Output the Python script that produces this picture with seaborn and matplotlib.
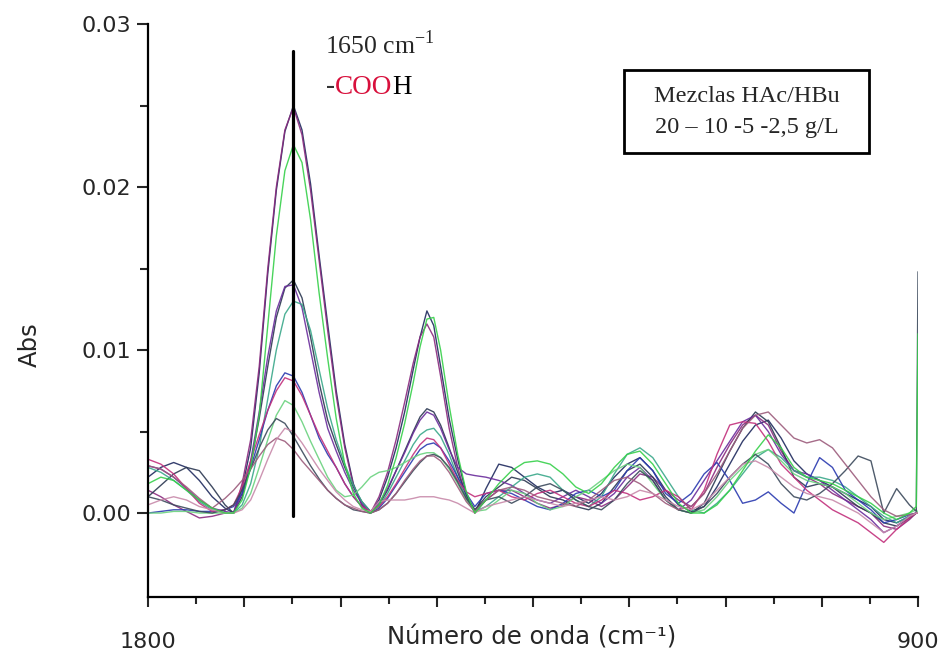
import numpy as np
import pandas as pd
import matplotlib
matplotlib.use("Agg")
import matplotlib.pyplot as plt
import seaborn as sns
from matplotlib.ticker import FixedLocator, FixedFormatter
from matplotlib.patches import Rectangle

# ---------------- data (absorbance in units of 1e-4) ----------------
wavenumber = [1800, 1785, 1770, 1755, 1740, 1725, 1710, 1700, 1690, 1680, 1670, 1660,
              1650, 1640, 1630, 1620, 1610, 1600, 1590, 1580, 1570, 1560, 1550, 1540,
              1530, 1520, 1510, 1500, 1490, 1482, 1474, 1466, 1458, 1448, 1438, 1428, 1418,
              1405, 1390, 1375, 1360, 1345, 1330, 1315, 1300, 1285, 1270, 1255, 1240,
              1225, 1210, 1195, 1180, 1165, 1150, 1135, 1120, 1105, 1090, 1075, 1060,
              1045, 1030, 1015, 1000, 985, 970, 955, 940, 925, 910, 902, 900]

s01 = [22, 28, 31, 28, 20, 10, 3, 0, 15, 40, 86, 147, 198, 234, 250, 235, 202, 158, 116, 75, 42, 18, 5, 0,
       8, 22, 40, 62, 88, 108, 124, 115, 90, 58, 33, 12, 0,
       15, 30, 28, 22, 16, 12, 14, 10, 6, 12, 22, 30, 34, 26, 14, 5, 1, 4, 16, 30,
       44, 54, 57, 46, 32, 24, 20, 16, 12, 8, 4, -4, -6, -2, 0, 0]
s02 = [14, 10, 5, 1, -3, -2, 0, 0, 18, 45, 90, 150, 200, 235, 249, 232, 198, 155, 112, 72, 40, 17, 5, 0,
       10, 25, 45, 68, 92, 108, 116, 108, 84, 52, 28, 10, 0,
       8, 14, 14, 10, 6, 3, 5, 10, 8, 4, 8, 16, 24, 22, 14, 8, 4, 12, 28, 42,
       54, 60, 54, 38, 26, 22, 18, 12, 8, 4, 0, -8, -10, -4, 0, 0]
s03 = [18, 22, 20, 14, 8, 3, 0, 0, 8, 28, 60, 115, 170, 210, 226, 215, 180, 135, 95, 58, 30, 12, 3, 0,
       5, 17, 34, 55, 80, 102, 119, 120, 100, 66, 36, 13, 0,
       8, 18, 26, 31, 32, 30, 24, 16, 12, 18, 28, 36, 38, 30, 18, 6, 0, 0, 5, 14,
       26, 38, 48, 40, 28, 22, 20, 18, 14, 10, 6, 0, -4, 0, 4, 110]
s04 = [10, 17, 24, 28, 26, 16, 5, 0, 10, 30, 58, 90, 120, 138, 143, 132, 108, 80, 57, 42, 28, 16, 7, 1,
       5, 14, 26, 38, 50, 59, 64, 62, 54, 40, 25, 11, 2,
       10, 16, 22, 20, 15, 10, 8, 4, 2, 6, 16, 26, 30, 22, 10, 2, 0, 6, 22, 38,
       52, 62, 56, 40, 22, 16, 18, 16, 10, 4, 0, -6, -8, -3, 0, 0]
s05 = [29, 27, 22, 15, 8, 3, 1, 0, 12, 32, 62, 96, 124, 139, 140, 126, 100, 74, 52, 38, 25, 14, 6, 1,
       6, 15, 26, 37, 49, 57, 62, 60, 52, 39, 28, 24, 23,
       22, 20, 17, 12, 8, 6, 10, 14, 10, 6, 12, 22, 28, 20, 8, 2, 8, 20, 32, 44,
       56, 60, 50, 36, 26, 24, 20, 14, 8, 2, -4, -12, -8, -2, 0, 0]
s06 = [28, 25, 20, 14, 7, 2, 0, 0, 5, 18, 40, 70, 100, 122, 130, 128, 112, 88, 64, 45, 30, 17, 7, 1,
       4, 12, 22, 32, 42, 48, 51, 52, 47, 36, 22, 9, 1,
       4, 10, 16, 22, 24, 22, 14, 8, 4, 10, 24, 36, 40, 34, 22, 10, 2, 0, 6, 14,
       24, 34, 39, 34, 26, 22, 22, 20, 16, 10, 4, -2, -6, -2, 0, 0]
s07 = [0, 1, 2, 2, 1, 1, 2, 4, 12, 28, 45, 63, 78, 86, 84, 74, 60, 46, 36, 28, 18, 10, 4, 0,
       3, 9, 17, 25, 33, 39, 42, 43, 40, 32, 22, 12, 4,
       12, 14, 12, 8, 4, 2, 6, 12, 14, 10, 14, 26, 34, 26, 12, 6, 12, 24, 31, 20,
       6, 8, 13, 6, 0, 18, 34, 28, 14, 8, 2, -6, -4, -1, 0, 0]
s08 = [33, 30, 24, 15, 6, 1, 2, 5, 16, 32, 48, 63, 75, 83, 81, 72, 60, 48, 38, 28, 18, 10, 4, 1,
       4, 10, 18, 27, 36, 42, 46, 45, 40, 30, 20, 13, 10,
       12, 14, 10, 8, 12, 14, 10, 6, 4, 8, 14, 12, 8, 10, 14, 10, 2, 14, 36, 54,
       56, 55, 44, 30, 22, 14, 8, 2, -2, -6, -12, -18, -10, -3, 0, 0]
s09 = [0, 0, 1, 1, 0, 0, 0, 0, 3, 12, 28, 45, 60, 69, 66, 56, 44, 33, 22, 14, 10, 11, 16, 22,
       25, 26, 28, 31, 34, 36, 37, 37, 34, 27, 18, 8, 1,
       2, 8, 14, 12, 6, 2, 4, 10, 14, 20, 26, 30, 28, 18, 8, 2, 0, 2, 10, 20,
       28, 36, 39, 32, 24, 20, 18, 16, 12, 6, 0, -4, -2, 0, 2, 0]
s10 = [10, 8, 5, 3, 1, 0, 2, 5, 14, 27, 40, 51, 58, 55, 47, 38, 29, 21, 14, 9, 5, 2, 1, 0,
       2, 6, 12, 19, 26, 31, 35, 36, 34, 28, 19, 9, 2,
       8, 10, 6, 10, 16, 18, 14, 8, 4, 2, 8, 18, 26, 20, 8, 2, 0, 4, 12, 22,
       30, 36, 30, 18, 10, 8, 12, 18, 26, 35, 32, 0, 15, 5, 1, 148]
s11 = [29, 27, 22, 16, 9, 3, 9, 14, 20, 27, 35, 42, 46, 44, 39, 32, 26, 20, 14, 9, 5, 3, 1, 0,
       2, 6, 12, 20, 27, 32, 35, 35, 32, 25, 16, 7, 1,
       8, 14, 16, 14, 10, 8, 6, 4, 8, 14, 20, 22, 18, 12, 6, 2, 4, 12, 24, 38,
       52, 60, 62, 54, 46, 43, 45, 40, 30, 20, 10, 2, -2, -1, 0, 0]
s12 = [5, 8, 10, 8, 4, 2, 0, 0, 2, 8, 20, 33, 45, 52, 50, 43, 35, 27, 20, 13, 8, 4, 2, 1,
       7, 8, 8, 8, 9, 10, 10, 10, 9, 8, 6, 3, 0,
       4, 6, 8, 10, 8, 6, 4, 6, 8, 10, 8, 10, 14, 12, 8, 4, 2, 6, 14, 22,
       30, 32, 28, 22, 16, 12, 10, 8, 4, 0, -6, -12, -8, -2, 0, 0]

# drawing order: the bright green series last so its end spike lies on top
series_names = ["M1", "M2", "M4", "M5", "M6", "M7", "M8", "M9", "M10", "M11", "M12", "M3"]
series_values = [s01, s02, s04, s05, s06, s07, s08, s09, s10, s11, s12, s03]
line_colors = ["#1f2a5e", "#8a2a7e", "#2c3852", "#6a2c9c", "#3aa88a",
               "#2a3ab0", "#c2307c", "#6ad27e", "#3c4a5c", "#9c5c7c", "#c88aaa", "#36d04a"]

y_ticks = [0.00, 0.01, 0.02, 0.03]
y_tick_labels = ["0.00", "0.01", "0.02", "0.03"]

rows = []
for name, vals in zip(series_names, series_values):
    for w, v in zip(wavenumber, vals):
        rows.append((name, w, v * 1e-4))
df = pd.DataFrame(rows, columns=["serie", "wn", "absorb"])

# ---------------- style ----------------
sns.set_style("ticks")
plt.rcParams['font.family'] = ['DejaVu Sans']
plt.rcParams['mathtext.fontset'] = 'custom'
plt.rcParams['mathtext.rm'] = 'Liberation Serif'

W, H = 947, 656
fig = plt.figure(figsize=(W / 100, H / 100), dpi=100)
ax = fig.add_axes([148 / W, 1 - 597 / H, 770 / W, 573 / H])

sns.lineplot(data=df, x="wn", y="absorb", hue="serie", hue_order=series_names,
             palette=line_colors, estimator=None, sort=False, legend=False,
             linewidth=1.0, alpha=0.9, ax=ax)

ax.set_xlim(1800, 900)
ax.set_ylim(-0.00515, 0.0300)

# x ticks
major_x = list(np.arange(1800, 899, -112.5))
minor_x = list(np.arange(1800 - 56.25, 899, -112.5))
ax.xaxis.set_major_locator(FixedLocator(major_x))
ax.xaxis.set_minor_locator(FixedLocator(minor_x))
ax.xaxis.set_major_formatter(FixedFormatter(["1800"] + [""] * (len(major_x) - 2) + ["900"]))

ax.yaxis.set_major_locator(FixedLocator(y_ticks))
ax.yaxis.set_minor_locator(FixedLocator([0.005, 0.015, 0.025]))
ax.yaxis.set_major_formatter(FixedFormatter(y_tick_labels))

ax.tick_params(axis='x', which='major', length=7, width=1.5, direction='out', pad=18, labelsize=16)
ax.tick_params(axis='x', which='minor', length=5, width=1.5, direction='out')
ax.tick_params(axis='y', which='major', length=8, width=1.5, direction='out', pad=4, labelsize=16)
ax.tick_params(axis='y', which='minor', length=6, width=1.5, direction='out')

for side in ["top", "right"]:
    ax.spines[side].set_visible(False)
for side in ["left", "bottom"]:
    ax.spines[side].set_linewidth(1.6)
    ax.spines[side].set_color("black")

ax.set_xlabel("Número de onda (cm⁻¹)", fontsize=17.5)
ax.xaxis.set_label_coords((532 - 148) / 770, (597 - 637) / 573)
ax.xaxis.label.set_va("center")
ax.set_ylabel("Abs", fontsize=17.5)
ax.yaxis.set_label_coords((30 - 148) / 770, (597 - 345) / 573)
ax.yaxis.label.set_va("center")

# marker line at the carboxyl band
marker_wn = 1630
ax.plot([marker_wn, marker_wn], [-0.0002, 0.02835], color="black", lw=2.3, zorder=5)

serif = ['Liberation Serif', 'DejaVu Serif']
fig.text(380 / W, 1 - 45 / H, "1650 cm$^{\\mathrm{-1}}$", fontsize=18.5, family=serif,
         ha="center", va="center")

# "-COOH" with red "COO", built from adjacent pieces
renderer = fig.canvas.get_renderer()
fs_c = 19.5


def text_width(s):
    t = fig.text(0, 0, s, fontsize=fs_c, family=serif)
    w = t.get_window_extent(renderer).width
    t.remove()
    return w


x0, yc = 326.0, 87.0
w_dash = text_width("-")
w_dash_coo = text_width("-COO")
fig.text(x0 / W, 1 - yc / H, "-", fontsize=fs_c, family=serif, ha="left", va="center",
         color="#333333")
fig.text((x0 + w_dash + 0.3) / W, 1 - yc / H, "COO", fontsize=fs_c, family=serif,
         ha="left", va="center", color="#d8103c")
fig.text((x0 + w_dash_coo + 0.2) / W, 1 - yc / H, "H", fontsize=fs_c, family=serif, ha="left",
         va="center", color="black")

# legend-like box
fig.patches.append(Rectangle((624 / W, 1 - 153 / H), 245 / W, 83 / H,
                             transform=fig.transFigure, fill=False, lw=2, ec="black"))
fig.text(747 / W, 1 - 97 / H, "Mezclas HAc/HBu", fontsize=17.5, family=serif,
         ha="center", va="center")
fig.text(747 / W, 1 - 128 / H, "20 – 10 -5 -2,5 g/L", fontsize=17.5, family=serif,
         ha="center", va="center")

fig.savefig("out.png", dpi=100)
